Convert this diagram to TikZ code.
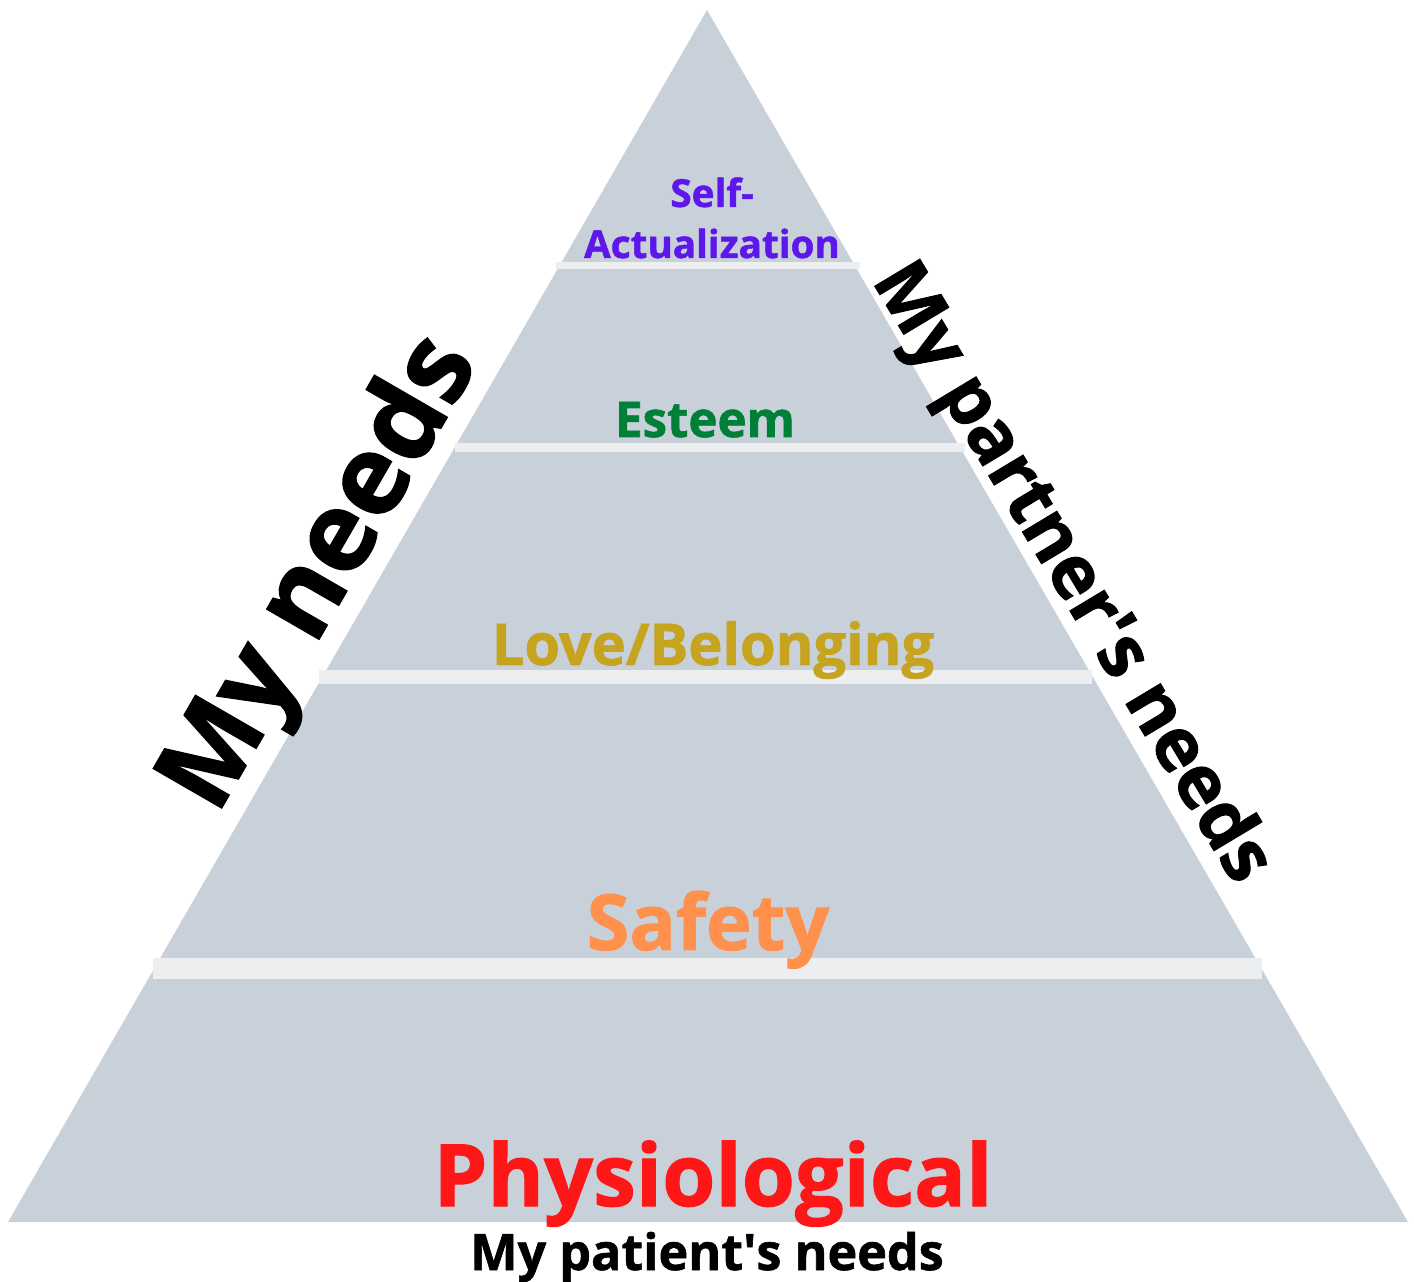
\documentclass[tikz,border=0pt]{standalone}
\usepackage{fontspec}
\setmainfont{Open Sans}[BoldFeatures={FakeBold=1.2}]
\usepackage{tikz}
\usetikzlibrary{positioning}

\definecolor{tri}{HTML}{C8D0D9}
\definecolor{bar}{HTML}{ECEEF0}
\definecolor{selfc}{HTML}{5E17EB}
\definecolor{esteemc}{HTML}{008037}
\definecolor{lovec}{HTML}{C6A420}
\definecolor{safetyc}{HTML}{FF914D}
\definecolor{physc}{HTML}{FF1616}

\begin{document}
\begin{tikzpicture}[
level/.style={anchor=base, inner sep=0pt, font=\bfseries},
side/.style={inner sep=0pt, font=\bfseries, text=black},
sep/.style={fill=bar, draw=none}]

\useasboundingbox (0,0) rectangle (14.14,12.81);

\coordinate (apex)  at (07.07,12.71);
\coordinate (left)  at (00.08,00.59);
\coordinate (right) at (14.08,00.59);

\fill[tri] (left) -- (apex) -- (right) -- cycle;

% separators between the levels
\fill[sep] (05.56,10.12) rectangle (08.60,10.19);
\fill[sep] (04.55,08.29) rectangle (09.65,08.38);
\fill[sep] (03.19,05.97) rectangle (10.92,06.11);
\fill[sep] (01.53,03.02) rectangle (12.62,03.23);

\node[level, text=selfc, font=\fontsize{11}{13}\selectfont\bfseries] (self) at (07.12,10.74) {Self-};
\node[level, text=selfc, font=\fontsize{11}{13}\selectfont\bfseries] (actual) at (07.12,10.23) {Actualization};
\node[level, text=esteemc, font=\fontsize{14}{17}\selectfont\bfseries] (esteem) at (07.05,08.44) {Esteem};
\node[level, text=lovec, font=\fontsize{16.4}{19}\selectfont\bfseries] (love) at (07.13,06.16) {Love/Belonging};
\node[level, text=safetyc, font=\fontsize{22}{26}\selectfont\bfseries] (safety) at (07.08,03.31) {Safety};
\node[level, text=physc, font=\fontsize{24.5}{29}\selectfont\bfseries] (phys) at (07.13,00.75) {Physiological};
\node[level, text=black, font=\fontsize{14.3}{17}\selectfont\bfseries] (patient) at (07.07,00.11) {My patient\textquotesingle s needs};

\node[side, rotate=60, font=\fontsize{31.5}{36}\selectfont\bfseries] (mine) at (03.23,07.06) {My needs};
\node[side, rotate=-59, font=\fontsize{21}{25}\selectfont\bfseries] (partner) at (10.70,07.07) {My partner\textquotesingle s needs};

\end{tikzpicture}
\end{document}
